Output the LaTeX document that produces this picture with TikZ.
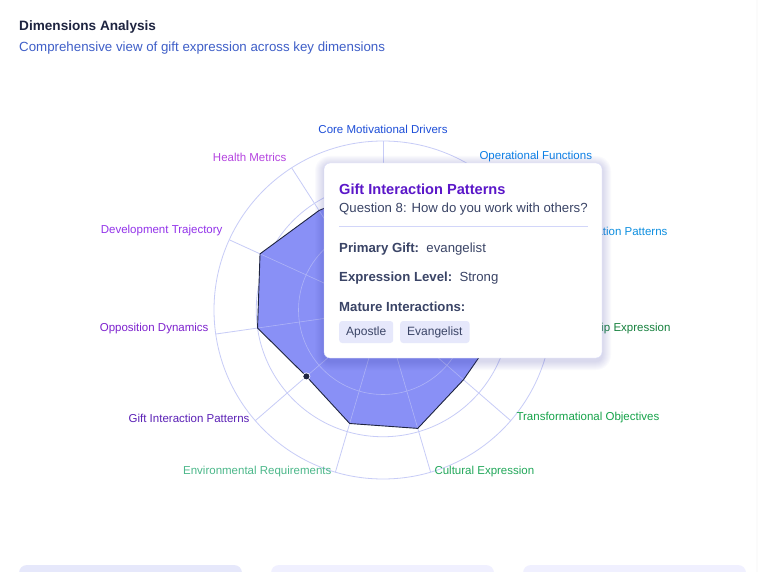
\documentclass[tikz,border=0pt]{standalone}
\usepackage{fontspec}
\setmainfont{Liberation Sans}
\usetikzlibrary{calc}
\definecolor{gridc}{HTML}{C7CCF7}
\definecolor{polyf}{HTML}{8990F6}
\definecolor{navy}{HTML}{1E2440}
\definecolor{subblue}{HTML}{3F5FC8}
\definecolor{ttpurple}{HTML}{5B17C9}
\definecolor{ttgrey}{HTML}{3A4466}
\definecolor{chip}{HTML}{E6E8FB}
\definecolor{c0}{HTML}{1D4ED8}
\definecolor{c1}{HTML}{0A7FE6}
\definecolor{c2}{HTML}{0E8FE0}
\definecolor{c3}{HTML}{15803D}
\definecolor{c4}{HTML}{16A34A}
\definecolor{c5}{HTML}{22A85A}
\definecolor{c6}{HTML}{4CB88A}
\definecolor{c7}{HTML}{5B21B6}
\definecolor{c8}{HTML}{7E22CE}
\definecolor{c9}{HTML}{9333EA}
\definecolor{c10}{HTML}{B545E0}
\tikzset{
  lbl/.style={font=\fontsize{11.5}{13}\selectfont},
  ttxt/.style={font=\fontsize{13.2}{15}\selectfont, text=ttgrey, anchor=west, inner sep=0},
  chipbox/.style={fill=chip, rounded corners=3pt, font=\fontsize{12}{13}\selectfont, text=ttgrey, minimum height=22pt, inner xsep=7pt},
  card/.style={fill=#1, draw=none, rounded corners=8pt}
}
\begin{document}
\begin{tikzpicture}[x=1pt,y=-1pt]
\useasboundingbox (0,0) rectangle (768,572);
\fill[white] (0,0) rectangle (768,572);
\draw[gray!20, rounded corners=10pt] (-5,-10) -- (757,-10) -- (757,600);
% bottom cards
\fill[card=chip] (19,565) rectangle (242,590);
\fill[card=blue!6] (271,565) rectangle (494,590);
\fill[card=blue!6] (523,565) rectangle (746,590);
% header
\node[anchor=west, inner sep=0, font=\fontsize{13.6}{16}\bfseries, text=navy] (title) at (19,27) {Dimensions Analysis};
\node[anchor=west, inner sep=0, font=\fontsize{13.3}{15}\selectfont, text=subblue] (sub) at (19,48) {Comprehensive view of gift expression across key dimensions};
% radar grid
\coordinate (c) at (383,310);
\foreach \r in {42.25,84.5,126.75,169} \draw[gridc, line width=0.8pt] (c) circle (\r);
\foreach \k in {0,...,10} \draw[gridc, line width=0.8pt] (c) -- ++({-90+\k*360/11}:169);
% polygon
\fill[polyf] ($(c)+({-90}:126.75)$) coordinate (p0)
  -- ($(c)+({-90+1*360/11}:118.3)$) coordinate (p1)
  -- ($(c)+({-90+2*360/11}:118.3)$) coordinate (p2)
  -- ($(c)+({-90+3*360/11}:118.3)$) coordinate (p3)
  -- ($(c)+({-90+4*360/11}:106.5)$) coordinate (p4)
  -- ($(c)+({-90+5*360/11}:123.4)$) coordinate (p5)
  -- ($(c)+({-90+6*360/11}:118.3)$) coordinate (p6)
  -- ($(c)+({-90+7*360/11}:101.4)$) coordinate (p7)
  -- ($(c)+({-90+8*360/11}:126.75)$) coordinate (p8)
  -- ($(c)+({-90+9*360/11}:135.2)$) coordinate (p9)
  -- ($(c)+({-90+10*360/11}:118.3)$) coordinate (p10) -- cycle;
\foreach \k in {0,...,10} \draw[gridc!60!polyf, line width=0.6pt] (c) -- (p\k);
\foreach \r in {42.25,84.5} \draw[gridc!60!polyf, line width=0.6pt] (c) circle (\r);
\draw[navy, line width=0.9pt, line join=round] (p0)--(p1)--(p2)--(p3)--(p4)--(p5)--(p6)--(p7)--(p8)--(p9)--(p10)--cycle;
\fill[navy] (p7) circle (3.2);
\draw[white, line width=0.6pt] (p7) circle (3.6);
% labels
\node[lbl, text=c0] (l0) at (383,129) {Core Motivational Drivers};
\node[lbl, text=c1, anchor=west] (l1) at (476,157) {Operational Functions};
\node[lbl, text=c2, anchor=east] (l2) at (671,231) {Communication Patterns};
\node[lbl, text=c3, anchor=east] (l3) at (674,329) {Leadership Expression};
\node[lbl, text=c4, anchor=west] (l4) at (513,418) {Transformational Objectives};
\node[lbl, text=c5, anchor=west] (l5) at (431,472) {Cultural Expression};
\node[lbl, text=c6, anchor=east] (l6) at (335,472) {Environmental Requirements};
\node[lbl, text=c7, anchor=east] (l7) at (253,418) {Gift Interaction Patterns};
\node[lbl, text=c8, anchor=east] (l8) at (212,329) {Opposition Dynamics};
\node[lbl, text=c9, anchor=east] (l9) at (226,231) {Development Trajectory};
\node[lbl, text=c10, anchor=east] (l10) at (290,157) {Health Metrics};
% tooltip soft shadow
\foreach \s in {1,...,9}
  \fill[blue!40!gray, opacity=0.022, rounded corners={6pt+\s pt}] ($(324,165)-(\s,\s)$) rectangle ($(602,361)+(\s,\s)$);
\node[draw=gridc!70, fill=white, rounded corners=6pt, minimum width=278pt, minimum height=195pt, inner sep=0] (tt) at (463,260.5) {};
\node[anchor=west, inner sep=0, font=\fontsize{14.6}{16}\bfseries, text=ttpurple] (tth) at (339,189) {Gift Interaction Patterns};
\node[ttxt] (ttq) at (339,209) {Question 8: How do you work with others?};
\draw[gridc!80, line width=0.8pt] (339,226) -- (588,226);
\node[ttxt] (ttp) at (339,249) {\textbf{Primary Gift:}\ \ evangelist};
\node[ttxt] (tte) at (339,278) {\textbf{Expression Level:}\ \ Strong};
\node[ttxt] (ttm) at (339,307) {\textbf{Mature Interactions:}};
\node[chipbox, anchor=west] (ch1) at (339,332) {Apostle};
\node[chipbox, anchor=west] (ch2) at (400,332) {Evangelist};
\end{tikzpicture}
\end{document}
